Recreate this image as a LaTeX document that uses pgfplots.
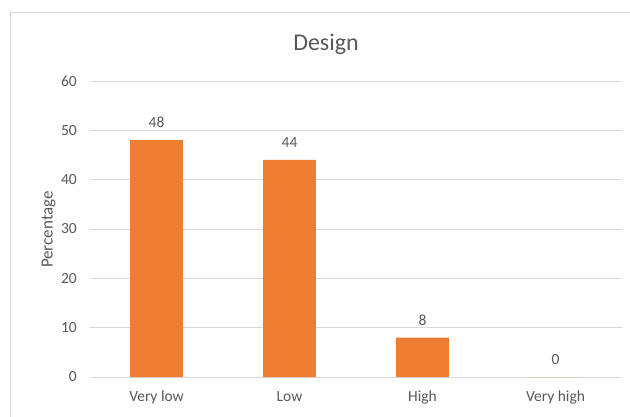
\documentclass[border=0pt]{standalone}
\usepackage{pgfplots}
\pgfplotsset{compat=1.18}
\usepackage{fontspec}
\setmainfont{Carlito}
\definecolor{barorange}{HTML}{ED7D31}
\definecolor{textgray}{HTML}{595959}
\definecolor{gridgray}{HTML}{D9D9D9}
\begin{document}
\begin{tikzpicture}[x=1bp,y=1bp]
\useasboundingbox (0,0) rectangle (630,416);
\fill[white] (0,0) rectangle (630,416);
\begin{scope}
\clip (0,0) rectangle (630,416);
\draw[gridgray, line width=1bp] (10.5,-20) rectangle (700,403.5);
\end{scope}
\node[anchor=base, text=textgray, font=\fontsize{24bp}{28bp}\selectfont] at (326,366) {Design};
\node[anchor=base, rotate=90, text=textgray, font=\fontsize{17bp}{20bp}\selectfont] at (52.5,186.5) {Percentage};
\begin{axis}[
  at={(90bp,39bp)}, anchor=south west,
  scale only axis, width=532bp, height=296bp,
  ybar, bar width=52.6bp,
  xmin=-0.5, xmax=3.5, ymin=0, ymax=60,
  ytick={0,10,20,30,40,50,60},
  xtick={0,1,2,3},
  xticklabels={Very low, Low, High, Very high},
  axis line style={draw=none},
  ymajorgrids, grid style={color=gridgray, line width=1bp},
  major tick length=0pt,
  tick label style={font=\fontsize{15.5bp}{18bp}\selectfont, text=textgray},
  /pgf/number format/assume math mode=true,
  yticklabel style={inner sep=0pt, anchor=east, xshift=-13bp},
  xticklabel style={inner sep=0pt, anchor=north, yshift=-14bp},
  nodes near coords,
  nodes near coords style={font=\fontsize{15.5bp}{18bp}\selectfont, text=textgray, inner sep=0pt, anchor=south, yshift=12bp},
  clip=false,
]
\addplot[fill=barorange, draw=none] coordinates {(0,48) (1,44) (2,8) (3,0)};
\end{axis}
\end{tikzpicture}
\end{document}
